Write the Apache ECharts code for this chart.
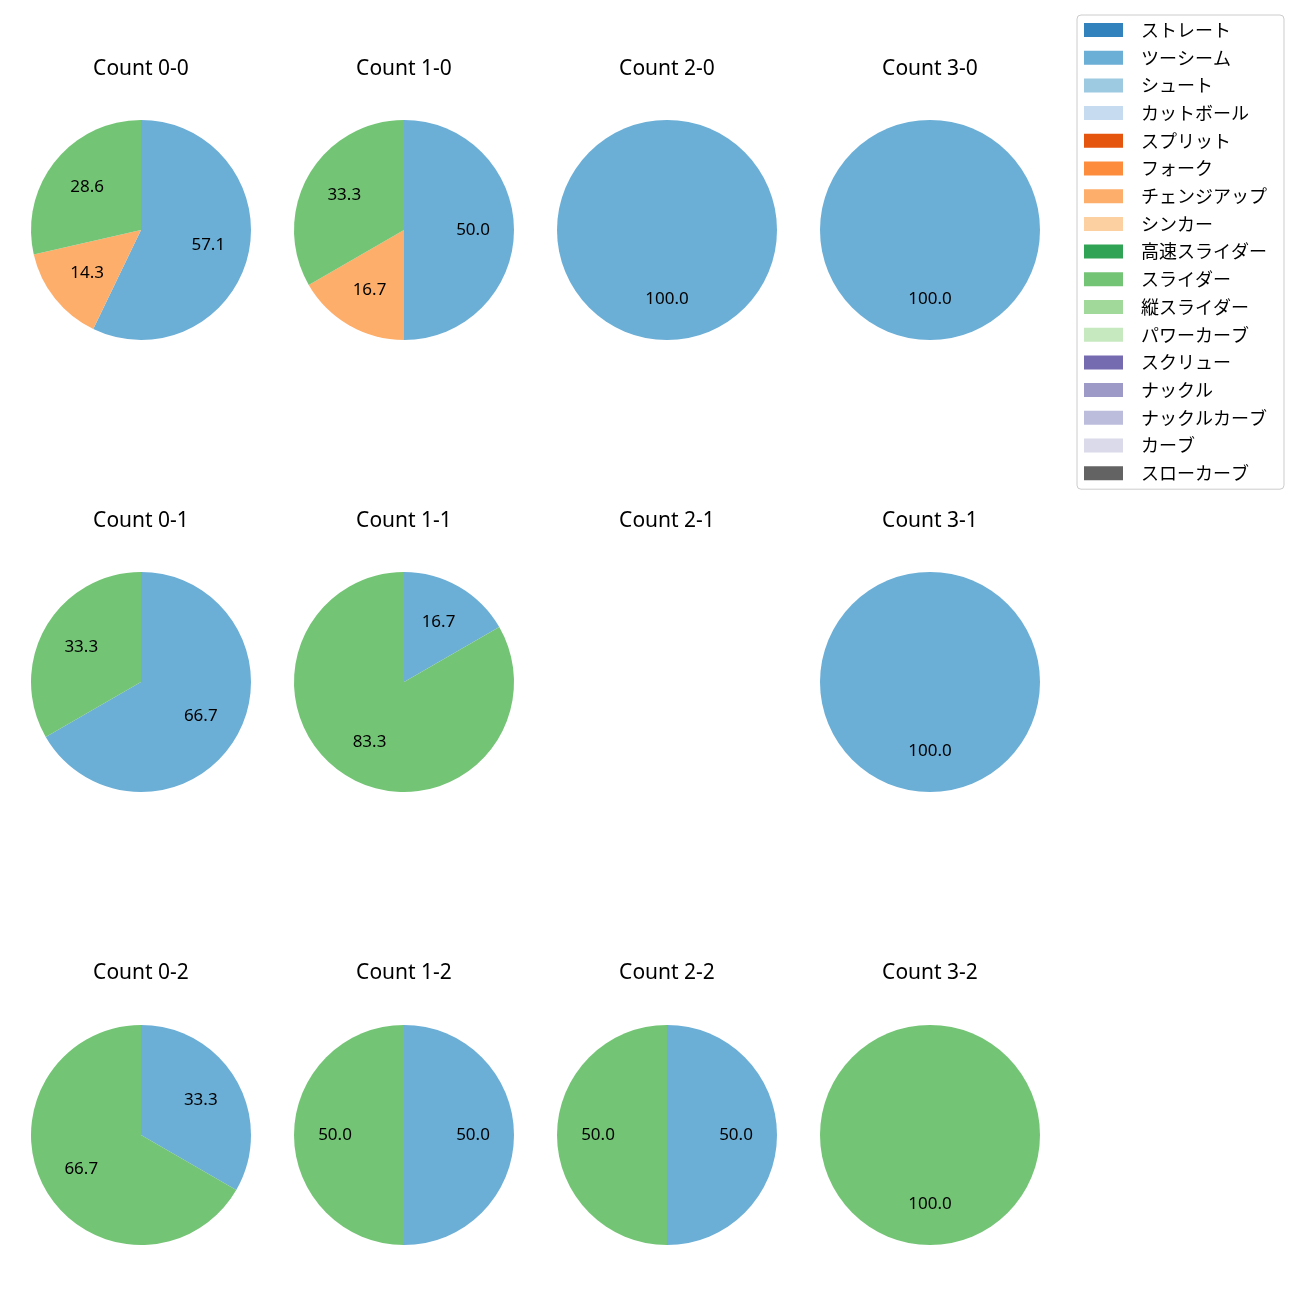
<!DOCTYPE html>
<html>
<head>
<meta charset="utf-8">
<script src="https://cdn.jsdelivr.net/npm/echarts@6/dist/echarts.min.js"></script>
<style>
html,body{margin:0;padding:0;background:#fff;}
#chart{width:1300px;height:1300px;}
</style>
</head>
<body>
<div id="chart"></div>
<script>
// ---- data ----
const categories = ['ストレート','ツーシーム','シュート','カットボール','スプリット','フォーク','チェンジアップ','シンカー','高速スライダー','スライダー','縦スライダー','パワーカーブ','スクリュー','ナックル','ナックルカーブ','カーブ','スローカーブ'];
const usedPitches = ['ツーシーム','チェンジアップ','スライダー'];
const panelTitles = ['Count 0-0','Count 1-0','Count 2-0','Count 3-0',
                     'Count 0-1','Count 1-1','Count 2-1','Count 3-1',
                     'Count 0-2','Count 1-2','Count 2-2','Count 3-2'];
// counts per panel in order of usedPitches
const count00 = [4,1,2];
const count10 = [3,1,2];
const count20 = [1,0,0];
const count30 = [1,0,0];
const count01 = [2,0,1];
const count11 = [1,0,5];
const count21 = [0,0,0];
const count31 = [1,0,0];
const count02 = [1,0,2];
const count12 = [1,0,1];
const count22 = [1,0,1];
const count32 = [0,0,1];
const panelCounts = [count00,count10,count20,count30,count01,count11,count21,count31,count02,count12,count22,count32];

// ---- style ----
const palette = ['#3182bd','#6baed6','#9ecae1','#c6dbef','#e6550d','#fd8d3c','#fdae6b','#fdd0a2','#31a354','#74c476','#a1d99b','#c7e9c0','#756bb1','#9e9ac8','#bcbddc','#dadaeb','#636363'];
const colX = [141,404,667,930];
const rowY = [230,682,1135];
const titleY = [69,521,973];
const R = 110;
const LATIN = '"Noto Sans", "Noto Sans CJK JP", sans-serif';
const CJK = '"Noto Sans CJK JP", "Noto Sans", sans-serif';

const chart = echarts.init(document.getElementById('chart'), null, {renderer:'canvas'});
const titles = [];
const series = [];
panelCounts.forEach((cnt, i) => {
  const col = i % 4, row = Math.floor(i / 4);
  titles.push({
    text: panelTitles[i], left: colX[col], top: titleY[row], textAlign: 'center', textVerticalAlign: 'middle',
    textStyle: {fontFamily: LATIN, fontSize: 21, fontWeight: 'normal', color: '#000'}, padding: 0
  });
  const total = cnt.reduce((a,b)=>a+b,0);
  if (total === 0) return;
  const full = categories.map((c, k) => {
    const j = usedPitches.indexOf(c);
    return {name: c, value: j >= 0 ? cnt[j] : 0, itemStyle: {color: palette[k]}};
  });
  series.push({
    type: 'pie', center: [colX[col], rowY[row]], radius: [0, R], startAngle: 90, clockwise: true,
    stillShowZeroSum: false, minAngle: 0, avoidLabelOverlap: false, animation: false,
    label: {show: false}, labelLine: {show: false}, emphasis: {disabled: true},
    itemStyle: {borderWidth: 0}, data: full, z: 2
  });
  // label layer: radius 1.2R so that inside labels sit at 0.6R like the reference
  const nz = full.filter(d => d.value > 0).map(d => ({name: d.name, value: d.value}));
  series.push({
    type: 'pie', center: [colX[col], rowY[row]], radius: [0, R * 1.2], startAngle: 90, clockwise: true,
    avoidLabelOverlap: false, animation: false, silent: true, legendHoverLink: false,
    itemStyle: {color: 'rgba(0,0,0,0)', borderWidth: 0},
    label: {show: true, position: 'inside', fontFamily: LATIN, fontSize: 17, color: '#000',
      formatter: p => (p.value / total * 100).toFixed(1)},
    labelLine: {show: false}, emphasis: {disabled: true}, data: nz, z: 3
  });
});

chart.setOption({
  backgroundColor: '#fff',
  color: palette,
  title: titles,
  legend: {
    orient: 'vertical', left: 1077, top: 15,
    itemWidth: 39, itemHeight: 14, itemGap: 9.7,
    padding: [6, 17, 7, 7],
    borderColor: '#cccccc', borderWidth: 1, borderRadius: 4,
    icon: 'rect',
    textStyle: {fontFamily: CJK, fontSize: 18, color: '#000', padding: [0,0,0,13]},
    data: categories.map((c, k) => ({name: c, itemStyle: {color: palette[k]}})),
    selectedMode: false
  },
  series: series
});
</script>
</body>
</html>
